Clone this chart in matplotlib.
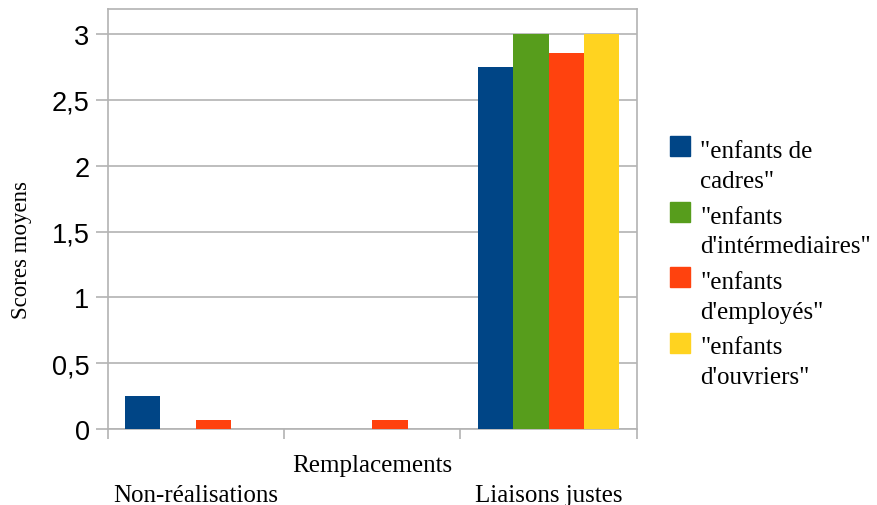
import numpy as np
import matplotlib.pyplot as plt
from matplotlib.patches import Rectangle

categories = ['Non-réalisations', 'Remplacements', 'Liaisons justes']
series_names = ['"enfants de\ncadres"', '"enfants\nd\'intérmediaires"',
                '"enfants\nd\'employés"', '"enfants\nd\'ouvriers"']
cadres = [0.25, 0.0, 2.75]
intermediaires = [0.0, 0.0, 3.0]
employes = [0.07, 0.07, 2.86]
ouvriers = [0.0, 0.0, 3.0]
yticks = [0, 0.5, 1, 1.5, 2, 2.5, 3]
ytick_labels = ['0', '0,5', '1', '1,5', '2', '2,5', '3']

colors = ['#004586', '#579d1c', '#ff420e', '#ffd320']
grid_col = '#b3b3b3'
serif = ['Liberation Serif', 'DejaVu Serif']
sans = ['Liberation Sans', 'DejaVu Sans']

W, H = 877, 506
fig = plt.figure(figsize=(W / 100, H / 100), dpi=100)
ax = fig.add_axes([0.1226, 0.1502, 0.6037, 0.831])

x = np.arange(len(categories))
w = 0.2
all_series = [cadres, intermediaires, employes, ouvriers]
for i, vals in enumerate(all_series):
    ax.bar(x + (i - 1.5) * w, vals, w, color=colors[i], zorder=3)

ax.set_xlim(-0.5, 2.5)
ax.set_ylim(0, 3.195)
ax.set_yticks(yticks)
ax.set_yticklabels(ytick_labels, family=sans, fontsize=19.5)
ax.yaxis.grid(True, color=grid_col, linewidth=1.2, zorder=0)
ax.tick_params(axis='y', length=8.6, color=grid_col, width=1.2, pad=4.3)

# category labels, staggered like LibreOffice does
ax.set_xticks(x)
ax.set_xticklabels(categories, family=serif, fontsize=18)
ax.tick_params(axis='x', which='major', length=0)
for i, t in enumerate(ax.xaxis.get_major_ticks()):
    t.set_pad(18 if i % 2 == 1 else 39.5)
ax.set_xticks([-0.5, 0.5, 1.5, 2.5], minor=True)
ax.tick_params(axis='x', which='minor', length=7.2, color=grid_col, width=1.2)

for s in ax.spines.values():
    s.set_color(grid_col)
    s.set_linewidth(1.2)

fig.text(22 / W, 1 - 250 / H, 'Scores moyens', rotation=90, family=serif,
         fontsize=16.5, ha='center', va='center')

# legend drawn by hand so the swatch sits next to the first line
for i, name in enumerate(series_names):
    top = 137 + i * 65.5
    fig.patches.append(Rectangle((670 / W, 1 - (top + 20) / H), 20 / W, 20 / H,
                                 transform=fig.transFigure, color=colors[i]))
    for j, line in enumerate(name.split('\n')):
        fig.text(700 / W, 1 - (top + 21 + 30 * j) / H, line, family=serif,
                 fontsize=18, va='baseline', ha='left')

fig.savefig('out.png', dpi=100)
